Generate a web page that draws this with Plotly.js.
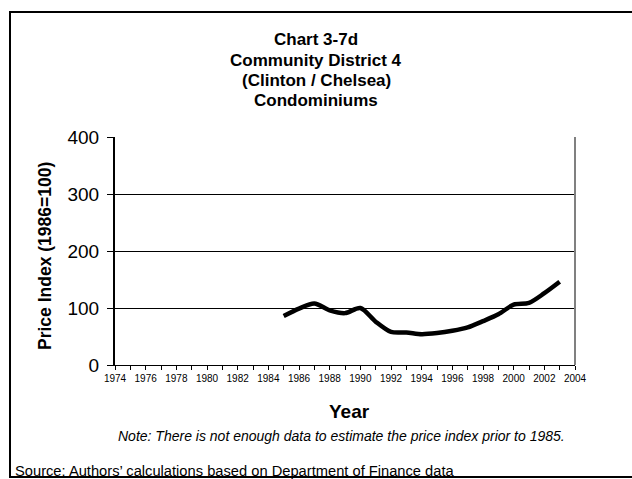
<!DOCTYPE html>
<html>
<head>
<meta charset="utf-8">
<script src="https://cdn.plot.ly/plotly-3.0.1.min.js"></script>
<style>html,body{margin:0;padding:0;background:#fff;}#chart{width:632px;height:479px;}</style>
</head>
<body>
<div id="chart"></div>
<script>
const years = [1985,1986,1987,1988,1989,1990,1991,1992,1993,1994,1995,1996,1997,1998,1999,2000,2001,2002,2003];
const priceIndex = [86,99,108,96,91,100,76,58,57,54,56,60,66,77,89,106,109,126,146];
const titleLines = ["Chart 3-7d","Community District 4","(Clinton / Chelsea)","Condominiums"];
const xTitle = "Year";
const yTitle = "Price Index (1986=100)";
const noteText = "Note: There is not enough data to estimate the price index prior to 1985.";
const sourceText = "Source: Authors\u2019 calculations based on Department of Finance data";

const L = 115, R = 575, T = 137, B = 365, W = 632, H = 479;
const px = x => (x - L) / (R - L);
const py = y => (B - y) / (B - T);
const font = "Liberation Sans, Arial, sans-serif";

const trace = {
  x: years, y: priceIndex, type: 'scatter', mode: 'lines',
  line: {color: '#000', width: 4.5, shape: 'spline', smoothing: 0.8},
  hoverinfo: 'skip', showlegend: false
};

const annotations = titleLines.map((t, i) => ({
  text: '<b>' + t + '</b>', xref: 'paper', yref: 'paper',
  x: px(316), y: py(40 + i * 20.3), xanchor: 'center', yanchor: 'middle',
  showarrow: false, font: {family: font, size: 17, color: '#000'}
}));
annotations.push({
  text: '<b>' + xTitle + '</b>', xref: 'paper', yref: 'paper',
  x: px(349), y: py(411), xanchor: 'center', yanchor: 'middle',
  showarrow: false, font: {family: font, size: 19, color: '#000'}
});
annotations.push({
  text: '<b>' + yTitle + '</b>', xref: 'paper', yref: 'paper', textangle: -90,
  x: px(45), y: py(256), xanchor: 'center', yanchor: 'middle',
  showarrow: false, font: {family: font, size: 17.5, color: '#000'}
});
annotations.push({
  text: '<i>' + noteText + '</i>', xref: 'paper', yref: 'paper',
  x: px(341), y: py(436), xanchor: 'center', yanchor: 'middle',
  showarrow: false, font: {family: font, size: 14, color: '#000'}
});
annotations.push({
  text: sourceText, xref: 'paper', yref: 'paper',
  x: px(13), y: py(471), xanchor: 'left', yanchor: 'middle',
  showarrow: false, font: {family: font, size: 14.7, color: '#000'}
});

const layout = {
  width: W, height: H,
  margin: {l: L, r: W - R, t: T, b: H - B, pad: 0},
  paper_bgcolor: '#fff', plot_bgcolor: '#fff',
  showlegend: false,
  xaxis: {
    range: [1974, 2004], tickmode: 'linear', tick0: 1974, dtick: 2,
    ticks: 'outside', ticklen: 4, tickwidth: 1, tickcolor: '#000',
    minor: {dtick: 1, ticks: 'outside', ticklen: 4, tickwidth: 1, tickcolor: '#000', showgrid: false},
    showgrid: false, zeroline: false,
    showline: true, linecolor: '#000', linewidth: 1, mirror: false,
    tickfont: {family: font, size: 10, color: '#000'},
    fixedrange: true
  },
  yaxis: {
    range: [0, 400], tickmode: 'linear', tick0: 0, dtick: 100,
    ticks: 'outside', ticklen: 6, tickwidth: 1, tickcolor: '#000',
    ticklabelstandoff: 4,
    showgrid: true, gridcolor: '#000', gridwidth: 1, zeroline: false,
    showline: true, linecolor: '#000', linewidth: 2,
    tickfont: {family: font, size: 19, color: '#000'},
    fixedrange: true
  },
  shapes: [
    {type: 'line', xref: 'paper', yref: 'paper', x0: 1, x1: 1, y0: 0, y1: 1,
     line: {color: '#808080', width: 2}},
    {type: 'rect', xref: 'paper', yref: 'paper', x0: px(10), x1: px(645), y0: py(477), y1: py(12),
     line: {color: '#000', width: 2}, fillcolor: 'rgba(0,0,0,0)', layer: 'above'}
  ],
  annotations: annotations
};

Plotly.newPlot('chart', [trace], layout, {displayModeBar: false, staticPlot: true});
</script>
</body>
</html>
